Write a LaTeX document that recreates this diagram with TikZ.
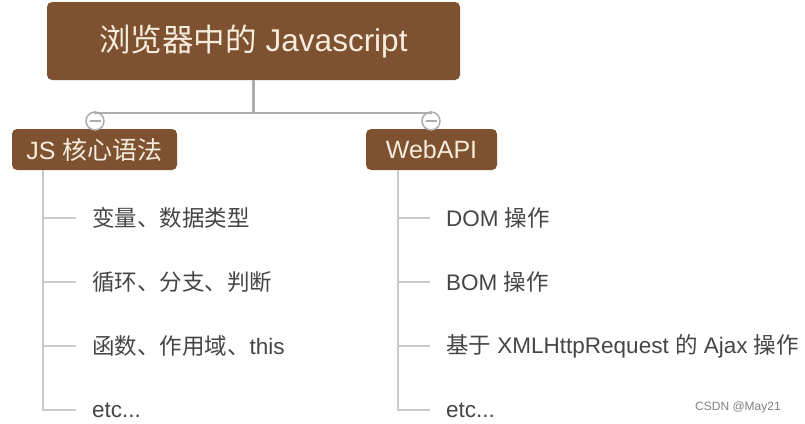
\documentclass[tikz,border=0pt]{standalone}
\usepackage{fontspec}
\setmainfont{Liberation Sans}
\newfontfamily\cjk{Noto Sans CJK SC}
\usetikzlibrary{positioning, calc}

\definecolor{boxbrown}{HTML}{7E5230}
\definecolor{boxtext}{HTML}{F5ECDD}
\definecolor{leaftext}{HTML}{454545}
\definecolor{treeline}{HTML}{CACACA}
\definecolor{linkline}{HTML}{ADADAD}

\tikzset{
    topic/.style = {fill = boxbrown, rounded corners = 5pt, text = boxtext, inner sep = 0pt},
    leaf/.style = {text = leaftext, font = \fontsize{22.5}{22.5}\selectfont, anchor = west, inner sep = 0pt},
    branch/.style = {treeline, line width = 2pt},
    link/.style = {linkline, line width = 2.5pt},
    fold/.style = {circle, draw = linkline, fill = white, line width = 1.5pt, minimum size = 18pt, inner sep = 0pt,
        path picture = {\draw[linkline, line width = 1.5pt] ([xshift = 3.5pt]path picture bounding box.west) -- ([xshift = -3.5pt]path picture bounding box.east);}}
}

\begin{document}
\begin{tikzpicture}[x = 1pt, y = -1pt]
    \useasboundingbox (0, 0) rectangle (805, 423);

    \node[topic, minimum width = 413pt, minimum height = 78pt, font = \fontsize{31.5}{31.5}\selectfont] (title) at (253.5, 41) {{\cjk 浏览器中的} Javascript};
    \node[topic, minimum width = 165pt, minimum height = 41pt, font = \fontsize{25}{25}\selectfont] (core) at (94.5, 149.5) {JS {\cjk 核心语法}};
    \node[topic, minimum width = 131pt, minimum height = 41pt, font = \fontsize{25}{25}\selectfont] (webapi) at (431.5, 149.5) {WebAPI};

    \node[fold] (corefold) at (95, 121) {};
    \node[fold] (webfold) at (431, 121) {};

    \draw[link] (title.south) -- ++ (0, 33) coordinate (fork);
    \draw[link] (fork) -| (corefold.north);
    \draw[link] (fork) -| (webfold.north);

    \node[leaf] (vars) at (92, 218) {{\cjk 变量、数据类型}};
    \node[leaf] (loops) at (92, 282) {{\cjk 循环、分支、判断}};
    \node[leaf] (funcs) at (92, 346) {{\cjk 函数、作用域、}this};
    \node[leaf] (coreetc) at (92, 410) {etc...};

    \node[leaf] (dom) at (446, 218) {DOM {\cjk 操作}};
    \node[leaf] (bom) at (446, 282) {BOM {\cjk 操作}};
    \node[leaf] (ajax) at (446, 346) {{\cjk 基于} XMLHttpRequest {\cjk 的} Ajax {\cjk 操作}};
    \node[leaf] (webetc) at (446, 410) {etc...};

    \coordinate (coretrunk) at ($(core.south west) + (31, 0)$);
    \draw[branch] (coretrunk) |- ([xshift = -16pt]coreetc.west);
    \draw[branch] (coretrunk |- vars.west) -- ([xshift = -16pt]vars.west);
    \draw[branch] (coretrunk |- loops.west) -- ([xshift = -16pt]loops.west);
    \draw[branch] (coretrunk |- funcs.west) -- ([xshift = -16pt]funcs.west);

    \coordinate (webtrunk) at ($(webapi.south west) + (32, 0)$);
    \draw[branch] (webtrunk) |- ([xshift = -16pt]webetc.west);
    \draw[branch] (webtrunk |- dom.west) -- ([xshift = -16pt]dom.west);
    \draw[branch] (webtrunk |- bom.west) -- ([xshift = -16pt]bom.west);
    \draw[branch] (webtrunk |- ajax.west) -- ([xshift = -16pt]ajax.west);

    \node[font = \fontsize{12}{12}\selectfont, text = gray, anchor = west, inner sep = 0pt] (mark) at (695, 407) {CSDN @May21};
\end{tikzpicture}
\end{document}
